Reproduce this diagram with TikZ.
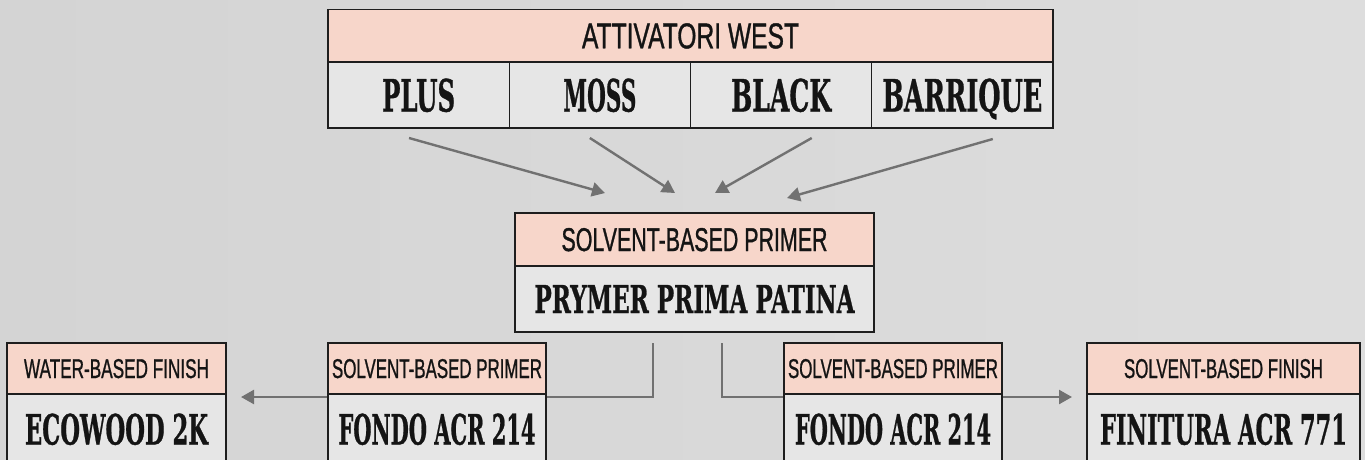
\documentclass[tikz,border=0pt]{standalone}
\usepackage{fontspec}
\usepackage{graphicx}
\newfontfamily\hdrfont{Liberation Sans}[FakeBold=1.2]
\newfontfamily\bodyfont{DejaVu Serif}[FakeBold=1.0]
\usetikzlibrary{arrows.meta}
\definecolor{hdrfill}{HTML}{F7D6CA}
\definecolor{cellfill}{HTML}{E6E6E6}
\definecolor{boxline}{HTML}{1E1E1E}
\definecolor{wire}{HTML}{717171}
\definecolor{paperA}{HTML}{D4D4D4}
\definecolor{paperB}{HTML}{DDDDDD}
\definecolor{inkc}{HTML}{141414}
\newcommand\fitt[3]{\resizebox{#1pt}{#2pt}{#3}}
\newcommand\htxt[1]{\hdrfont #1}
\newcommand\btxt[1]{\bodyfont\bfseries #1}
\pgfdeclarelayer{paper}
\pgfdeclarelayer{wires}
\pgfsetlayers{paper,wires,main}
\tikzset{
  boxbase/.style={draw=boxline, line width=1.2pt, inner sep=0pt, outer sep=0pt,
    anchor=north west, text depth=0pt, text=inkc},
  hdr/.style={boxbase, fill=hdrfill},
  cell/.style={boxbase, fill=cellfill},
  wirearrow/.style={draw=wire, line width=2.4pt,
    -{Triangle[length=13pt,width=14pt]}},
}
\begin{document}
\begin{tikzpicture}[x=1pt,y=-1pt]
\useasboundingbox (0,0) rectangle (1365,459);
\clip (0,0) rectangle (1365,459);
\begin{pgfonlayer}{paper}
  \shade[left color=paperA, right color=paperB] (0,0) rectangle (1365,459);
\end{pgfonlayer}

% top group
\node[hdr, minimum width=725pt, minimum height=52.5pt] (toph) at (328,9.5)
  {\fitt{217}{25}{\htxt{ATTIVATORI WEST}}};
\node[cell, minimum width=181.25pt, minimum height=66pt] (plus) at (328,62)
  {\fitt{73}{33}{\btxt{PLUS}}};
\node[cell, minimum width=181.25pt, minimum height=66pt] (moss) at (509.25,62)
  {\fitt{73}{33}{\btxt{MOSS}}};
\node[cell, minimum width=181.25pt, minimum height=66pt] (black) at (690.5,62)
  {\fitt{100}{33}{\btxt{BLACK}}};
\node[cell, minimum width=181.25pt, minimum height=66pt] (barr) at (871.75,62)
  {\fitt{160}{33}{\btxt{BARRIQUE}}};

% middle group
\node[hdr, minimum width=359pt, minimum height=53pt] (midh) at (515,213)
  {\fitt{266}{23}{\htxt{SOLVENT-BASED PRIMER}}};
\node[cell, minimum width=359pt, minimum height=66pt] (midb) at (515,266)
  {\fitt{320}{28}{\btxt{PRYMER PRIMA PATINA}}};

% bottom groups
\node[hdr, minimum width=219pt, minimum height=51pt] (ecoh) at (7,343)
  {\fitt{185}{19}{\htxt{WATER-BASED FINISH}}};
\node[cell, minimum width=219pt, minimum height=70pt] (ecob) at (7,394)
  {\fitt{183}{31}{\btxt{ECOWOOD 2K}}};

\node[hdr, minimum width=218pt, minimum height=51pt] (fonlh) at (328,343)
  {\fitt{210}{19}{\htxt{SOLVENT-BASED PRIMER}}};
\node[cell, minimum width=218pt, minimum height=70pt] (fonlb) at (328,394)
  {\fitt{197}{31}{\btxt{FONDO ACR 214}}};

\node[hdr, minimum width=218pt, minimum height=51pt] (fonrh) at (784,343)
  {\fitt{210}{19}{\htxt{SOLVENT-BASED PRIMER}}};
\node[cell, minimum width=218pt, minimum height=70pt] (fonrb) at (784,394)
  {\fitt{196}{31}{\btxt{FONDO ACR 214}}};

\node[hdr, minimum width=273pt, minimum height=51pt] (finh) at (1087,343)
  {\fitt{199}{19}{\htxt{SOLVENT-BASED FINISH}}};
\node[cell, minimum width=273pt, minimum height=70pt] (finb) at (1087,394)
  {\fitt{247}{31}{\btxt{FINITURA ACR 771}}};

% connectors (behind boxes)
\begin{pgfonlayer}{wires}
  \draw[wirearrow] ([xshift=-9.6pt,yshift=-10pt]plus.south)
    -- ([xshift=-89.5pt,yshift=20pt]midh.north);
  \draw[wirearrow] ([xshift=-10pt,yshift=-10pt]moss.south)
    -- ([xshift=-19.5pt,yshift=20pt]midh.north);
  \draw[wirearrow] ([xshift=30.6pt,yshift=-10pt]black.south)
    -- ([xshift=20.5pt,yshift=20pt]midh.north);
  \draw[wirearrow] ([xshift=30.4pt,yshift=-11pt]barr.south)
    -- ([xshift=92.5pt,yshift=15pt]midh.north);
  \draw[wirearrow] ([xshift=-41.5pt,yshift=-11pt]midb.south)
    |- ([xshift=15pt,yshift=-3pt]ecoh.south east);
  \draw[wirearrow] ([xshift=27.5pt,yshift=-11pt]midb.south)
    |- ([xshift=-15pt,yshift=-3pt]finh.south west);
\end{pgfonlayer}
\end{tikzpicture}
\end{document}
